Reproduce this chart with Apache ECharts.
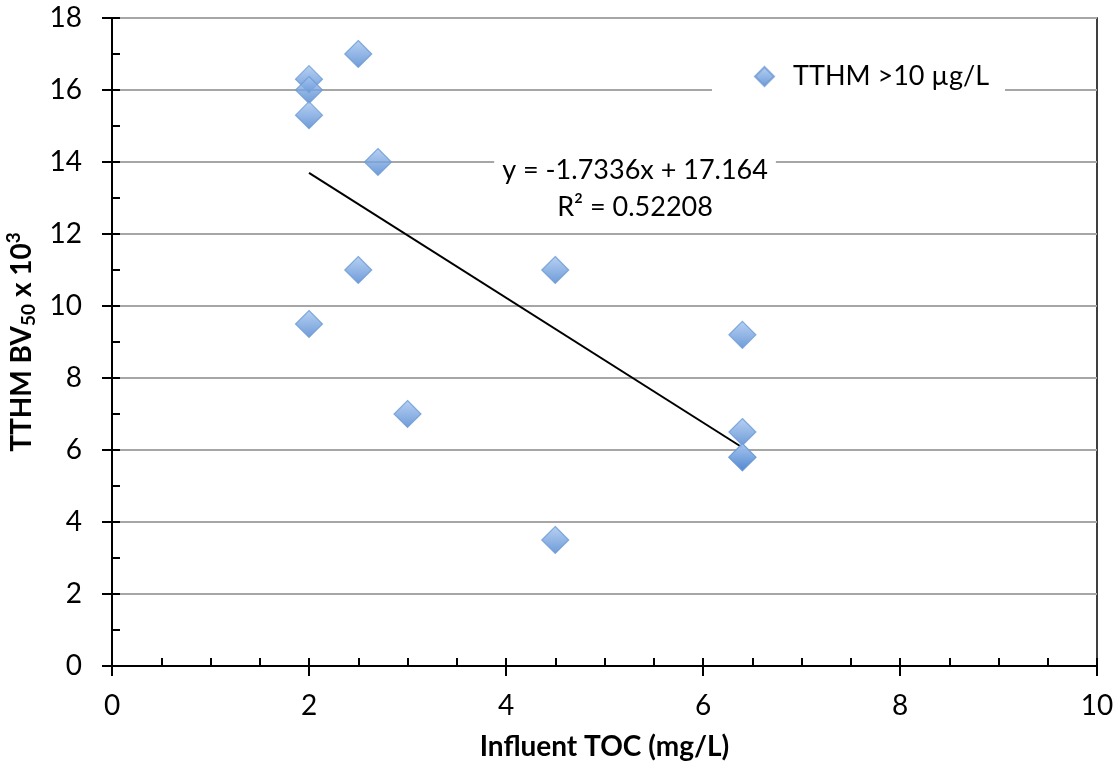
<!DOCTYPE html>
<html>
<head>
<meta charset="utf-8">
<script src="https://cdn.jsdelivr.net/npm/echarts@6/dist/echarts.min.js"></script>
<style>
html,body{margin:0;padding:0;background:#fff;}
#chart{width:1117px;height:763px;}
</style>
</head>
<body>
<div id="chart"></div>
<script>
// Data
const tocValues  = [2.0, 2.0, 2.0, 2.5, 2.7, 2.5, 2.0, 3.0, 4.5, 4.5, 6.4, 6.4, 6.4, 6.4];
const bv50Values = [16.3, 16.0, 15.3, 17.0, 14.0, 11.0, 9.5, 7.0, 11.0, 3.5, 9.2, 6.5, 5.8, 5.8];
const trendSlope = -1.7336;
const trendIntercept = 17.164;
const trendR2 = 0.52208;
const seriesName = 'TTHM >10 µg/L';
const xTicks = [0, 2, 4, 6, 8, 10];
const yTicks = [0, 2, 4, 6, 8, 10, 12, 14, 16, 18];

const FONT = 'Lato, "Liberation Sans", sans-serif';
const FS = 28;
const points = tocValues.map((x, i) => [x, bv50Values[i]]);
const xMin = Math.min(...tocValues), xMax = Math.max(...tocValues);
const trendPts = [[xMin, trendSlope * xMin + trendIntercept], [xMax, trendSlope * xMax + trendIntercept]];

const diamondFill = new echarts.graphic.LinearGradient(0, 0, 0, 1, [
  {offset: 0, color: '#A6C6F0'},
  {offset: 1, color: '#4A82CE'}
]);

const chart = echarts.init(document.getElementById('chart'), null, {renderer: 'canvas'});
const axisBase = {
  min: 0,
  type: 'value',
  axisLine: {show: true, lineStyle: {color: '#000', width: 2}},
};
const option = {
  animation: false,
  backgroundColor: '#fff',
  textStyle: {fontFamily: FONT},
  grid: {left: 112, right: 20, top: 18, bottom: 97, outerBoundsMode: 'none', containLabel: false,
         show: true, borderColor: '#000', borderWidth: 1.5, backgroundColor: 'transparent'},
  legend: {
    data: [seriesName],
    left: 712, top: 60,
    backgroundColor: '#fff',
    padding: [3, 16, 3, 42],
    itemWidth: 19, itemHeight: 19,
    itemGap: 10,
    textStyle: {fontFamily: FONT, fontSize: FS - 1, color: '#000', padding: [0, 0, 0, 14]}
  },
  xAxis: [
    Object.assign({}, axisBase, {
      max: 10, interval: 2,
      name: 'Influent TOC (mg/L)', nameLocation: 'middle', nameGap: 67,
      nameTextStyle: {fontFamily: FONT, fontSize: FS, fontWeight: 'bold', color: '#000'},
      axisTick: {show: true, inside: false, length: 10, lineStyle: {color: '#000', width: 2}},
      axisLabel: {fontFamily: FONT, fontSize: FS, color: '#000', margin: 26, formatter: v => xTicks.includes(v) ? String(v) : ''},
      splitLine: {show: false}
    }),
    Object.assign({}, axisBase, {
      max: 10, interval: 2, position: 'bottom',
      axisTick: {show: true, inside: true, length: 8, lineStyle: {color: '#000', width: 2}},
      minorTick: {show: true, splitNumber: 4, length: 8, lineStyle: {color: '#000', width: 2}},
      axisLabel: {show: false},
      splitLine: {show: false}
    })
  ],
  yAxis: [
    Object.assign({}, axisBase, {
      max: 18, interval: 2,
      name: '{a|TTHM BV}{s|50}{a| x 10}{p|3}', nameLocation: 'middle', nameGap: 72, nameRotate: 90,
      nameTextStyle: {
        fontFamily: FONT, fontSize: FS, fontWeight: 'bold', color: '#000',
        rich: {
          a: {fontFamily: FONT, fontSize: FS, fontWeight: 'bold', color: '#000', lineHeight: 34},
          s: {fontFamily: FONT, fontSize: 19, fontWeight: 'bold', color: '#000', verticalAlign: 'bottom', padding: [12, 0, 0, 0], lineHeight: 34},
          p: {fontFamily: FONT, fontSize: 19, fontWeight: 'bold', color: '#000', verticalAlign: 'top', padding: [0, 0, 12, 0], lineHeight: 34}
        }
      },
      axisTick: {show: true, inside: false, length: 10, lineStyle: {color: '#000', width: 2}},
      axisLabel: {fontFamily: FONT, fontSize: FS, color: '#000', margin: 30, formatter: v => yTicks.includes(v) ? String(v) : ''},
      splitLine: {show: true, lineStyle: {color: '#A6A6A6', width: 2}}
    }),
    Object.assign({}, axisBase, {
      max: 18, interval: 2, position: 'left',
      axisTick: {show: true, inside: true, length: 8, lineStyle: {color: '#000', width: 2}},
      minorTick: {show: true, splitNumber: 2, length: 8, lineStyle: {color: '#000', width: 2}},
      axisLabel: {show: false},
      splitLine: {show: false}
    })
  ],
  series: [
    {
      name: 'trend',
      type: 'line',
      data: trendPts,
      symbol: 'none',
      lineStyle: {color: '#000', width: 2},
      z: 3,
      silent: true
    },
    {
      name: seriesName,
      type: 'scatter',
      data: points,
      symbol: 'diamond',
      symbolSize: 27,
      itemStyle: {color: diamondFill, borderColor: '#6E9BD6', borderWidth: 1.2},
      z: 4
    }
  ]
};
chart.setOption(option);

// Trendline equation label, placed in data coordinates
const labelPos = chart.convertToPixel({xAxisIndex: 0, yAxisIndex: 0}, [5.31, 13.26]);
chart.setOption({
  graphic: [{
    type: 'text',
    x: labelPos[0], y: labelPos[1],
    z: 10,
    style: {
      text: 'y = ' + trendSlope + 'x + ' + trendIntercept + '\nR² = ' + trendR2,
      fontFamily: FONT, fontSize: FS - 1, fill: '#000',
      align: 'center', verticalAlign: 'middle',
      lineHeight: 37,
      backgroundColor: '#fff',
      padding: [0, 8, 0, 8]
    }
  }]
});
</script>
</body>
</html>
